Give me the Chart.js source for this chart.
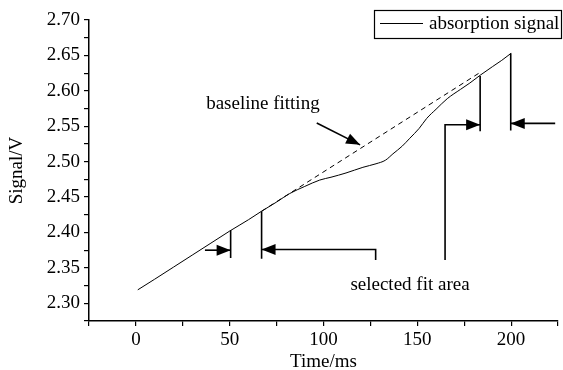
<!DOCTYPE html>
<html>
<head>
<meta charset="utf-8">
<script src="https://cdn.jsdelivr.net/npm/chart.js@4.4.1/dist/chart.umd.min.js"></script>
<style>
  html, body { margin: 0; padding: 0; background: #fff; }
  #wrap { width: 563px; height: 370px; }
</style>
</head>
<body>
<div id="wrap"><canvas id="chart" width="563" height="370"></canvas></div>
<script>
// absorption signal
const timeMs = [1, 10, 20, 30, 40, 50, 60, 67, 75, 82, 90, 98, 104, 112, 121, 128, 133, 137, 142, 146, 151, 155, 160, 166, 173, 178, 183.5, 190, 195, 200];
const signalV = [2.319, 2.334, 2.351, 2.368, 2.385, 2.402, 2.418, 2.430, 2.443, 2.455, 2.465, 2.474, 2.478, 2.484, 2.492, 2.497, 2.502, 2.511, 2.522, 2.533, 2.547, 2.561, 2.574, 2.589, 2.602, 2.611, 2.622, 2.634, 2.643, 2.653];

// dashed baseline fit
const baseTime = [67, 183.5];
const baseV = [2.430, 2.626];

// fit area brackets (vertical markers and arrows)
const markLeftA = [[50.5, 2.403], [50.5, 2.364]];
const arrowLeftA = [[36.8, 2.375], [50.5, 2.375]];
const markLeftB = [[67, 2.430], [67, 2.363]];
const arrowLeftB = [[127.8, 2.361], [127.8, 2.376], [67, 2.376]];
const arrowRightA = [[164.8, 2.361], [164.8, 2.552], [183.5, 2.552]];
const markRightA = [[183.5, 2.621], [183.5, 2.543]];
const markRightB = [[199.8, 2.653], [199.8, 2.544]];
const arrowRightB = [[223.5, 2.554], [199.8, 2.554]];
const arrowBaseline = [[96.4, 2.5545], [119.5, 2.5237]];

// text labels
const notes = [
  { text: "baseline fitting", x: 67.7, y: 2.582 },
  { text: "selected fit area", x: 146.1, y: 2.3265 },
];

const xTicksMajor = [0, 50, 100, 150, 200];

const FONT = "'Liberation Serif', 'Times New Roman', serif";

function pts(arr) {
  return arr.map(p => ({ x: p[0], y: p[1] }));
}

function markDs(arr, arrow) {
  return {
    label: "",
    data: pts(arr),
    borderColor: "#000",
    borderWidth: 1.6,
    pointRadius: 0,
    tension: 0,
    arrow: arrow,
  };
}

// arrowheads at the last point of arrow datasets
const arrowHeads = {
  id: "arrowHeads",
  afterDatasetsDraw(chart) {
    const c = chart.ctx;
    const xs = chart.scales.x, ys = chart.scales.y;
    chart.data.datasets.forEach(ds => {
      if (!ds.arrow) return;
      const n = ds.data.length;
      const a = ds.data[n - 2], b = ds.data[n - 1];
      const x1 = xs.getPixelForValue(a.x), y1 = ys.getPixelForValue(a.y);
      const x2 = xs.getPixelForValue(b.x), y2 = ys.getPixelForValue(b.y);
      const ang = Math.atan2(y2 - y1, x2 - x1);
      const len = 14, half = 5.5;
      c.save();
      c.translate(x2, y2);
      c.rotate(ang);
      c.fillStyle = "#000";
      c.beginPath();
      c.moveTo(0, 0);
      c.lineTo(-len, -half);
      c.lineTo(-len, half);
      c.closePath();
      c.fill();
      c.restore();
    });
  },
};

// free text notes and the boxed legend
const notesAndLegend = {
  id: "notesAndLegend",
  afterDraw(chart) {
    const c = chart.ctx;
    const xs = chart.scales.x, ys = chart.scales.y;
    c.save();
    c.fillStyle = "#000";
    c.font = "19px " + FONT;
    c.textAlign = "center";
    c.textBaseline = "middle";
    notes.forEach(n => {
      c.fillText(n.text, xs.getPixelForValue(n.x), ys.getPixelForValue(n.y));
    });

    // legend box
    const ds = chart.data.datasets[0];
    c.strokeStyle = "#000";
    c.lineWidth = 1.2;
    c.strokeRect(374.5, 10.5, 187, 28);
    c.beginPath();
    c.lineWidth = 1;
    c.moveTo(380, 23.5);
    c.lineTo(423, 23.5);
    c.stroke();
    c.textAlign = "left";
    c.fillText(ds.label, 429, 24);
    c.restore();
  },
};

new Chart(document.getElementById("chart"), {
  type: "line",
  data: {
    datasets: [
      {
        label: "absorption signal",
        data: timeMs.map((t, i) => ({ x: t, y: signalV[i] })),
        borderColor: "#000",
        borderWidth: 1,
        pointRadius: 0,
        cubicInterpolationMode: "monotone",
      },
      {
        label: "baseline fitting",
        data: baseTime.map((t, i) => ({ x: t, y: baseV[i] })),
        borderColor: "#000",
        borderWidth: 1,
        borderDash: [5, 4],
        pointRadius: 0,
      },
      markDs(markLeftA, false),
      markDs(arrowLeftA, true),
      markDs(markLeftB, false),
      markDs(arrowLeftB, true),
      markDs(arrowRightA, true),
      markDs(markRightA, false),
      markDs(markRightB, false),
      markDs(arrowRightB, true),
      markDs(arrowBaseline, true),
    ],
  },
  plugins: [arrowHeads, notesAndLegend],
  options: {
    responsive: false,
    devicePixelRatio: 1,
    animation: false,
    layout: { padding: { top: 20, right: 5, left: 0, bottom: 0 } },
    plugins: {
      legend: { display: false },
      tooltip: { enabled: false },
    },
    scales: {
      x: {
        type: "linear",
        min: -25,
        max: 225,
        afterFit(scale) { scale.height = 49; },
        border: { display: true, color: "#000", width: 1.5 },
        grid: { drawOnChartArea: false, drawTicks: true, tickLength: 5, color: "#000", lineWidth: 1.2 },
        ticks: {
          stepSize: 25,
          autoSkip: false,
          maxRotation: 0,
          padding: 3,
          color: "#000",
          font: { family: FONT, size: 19 },
          callback: v => (xTicksMajor.includes(v) ? String(v) : ""),
        },
        title: {
          display: true,
          text: "Time/ms",
          color: "#000",
          font: { family: FONT, size: 19 },
          padding: { top: 0, bottom: -3 },
        },
      },
      y: {
        type: "linear",
        min: 2.275,
        max: 2.70,
        afterFit(scale) { scale.width = 89; },
        border: { display: true, color: "#000", width: 1.5 },
        grid: { drawOnChartArea: false, drawTicks: true, tickLength: 5, color: "#000", lineWidth: 1.2 },
        ticks: {
          stepSize: 0.025,
          autoSkip: false,
          padding: 4,
          color: "#000",
          font: { family: FONT, size: 19 },
          callback: v => {
            const k = Math.round(v * 1000);
            return k % 50 === 0 ? (k / 1000).toFixed(2) : "";
          },
        },
        title: {
          display: true,
          text: "Signal/V",
          color: "#000",
          font: { family: FONT, size: 19 },
          padding: { top: 6, bottom: 0 },
        },
      },
    },
  },
});
</script>
</body>
</html>
